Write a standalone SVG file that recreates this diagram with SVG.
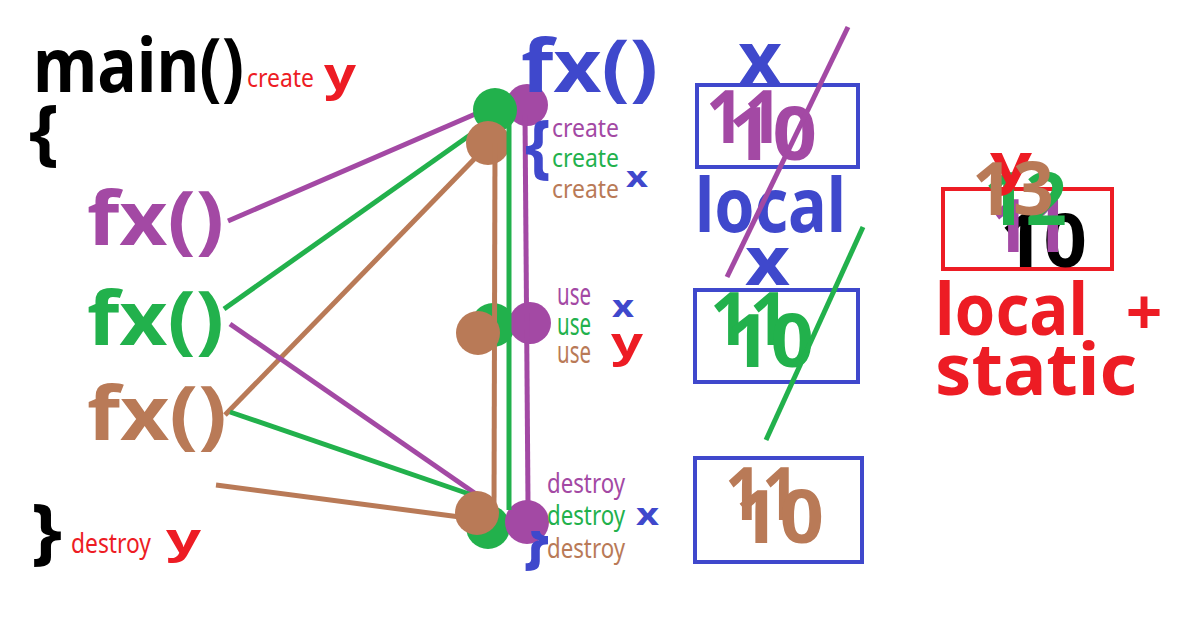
<svg xmlns="http://www.w3.org/2000/svg" width="1180" height="622" viewBox="0 0 1180 622">
<style>
.t{font-family:"Noto Sans","DejaVu Sans",sans-serif;font-weight:bold}
.s{font-family:"Noto Sans","DejaVu Sans",sans-serif;font-weight:normal}
.k{fill:#000}.r{fill:#ed1c24}.p{fill:#a349a4}.g{fill:#22b14c}.b{fill:#b97a57}.u{fill:#3f48cc}
.ln{stroke-width:5;fill:none}
.box{fill:none;stroke-width:4}
.big{font-size:74px}
</style>
<defs>
<clipPath id="braceClip"><rect x="520" y="531" width="29" height="60"/></clipPath>
</defs>
<rect width="1180" height="622" fill="#fff"/>

<g id="connectors">
<line class="ln" stroke="#a349a4" x1="228" y1="221" x2="480" y2="112"/>
<line class="ln" stroke="#22b14c" x1="224" y1="309" x2="480" y2="128"/>
<line class="ln" stroke="#b97a57" x1="225" y1="415" x2="485" y2="148"/>
<line class="ln" stroke="#a349a4" x1="230" y1="324" x2="476" y2="494"/>
<line class="ln" stroke="#22b14c" x1="230" y1="412" x2="472" y2="495"/>
<line class="ln" stroke="#b97a57" x1="216" y1="485" x2="460" y2="517"/>
</g>

<g id="circles">
<circle cx="527" cy="105" r="21" fill="#a349a4"/>
<circle cx="495" cy="110" r="22" fill="#22b14c"/>
<circle cx="488" cy="143" r="22" fill="#b97a57"/>
<circle cx="493" cy="325" r="22" fill="#22b14c"/>
<circle cx="478" cy="333" r="22" fill="#b97a57"/>
<circle cx="530" cy="323" r="21" fill="#a349a4"/>
<circle cx="488" cy="527" r="22" fill="#22b14c"/>
<circle cx="527" cy="522" r="22" fill="#a349a4"/>
<circle cx="477" cy="513" r="22" fill="#b97a57"/>
</g>

<g id="timelines">
<line class="ln" stroke="#b97a57" stroke-width="4" x1="495" y1="143" x2="494" y2="513"/>
<line class="ln" stroke="#22b14c" stroke-width="4" x1="509" y1="110" x2="509" y2="510"/>
<line class="ln" stroke="#a349a4" stroke-width="4" x1="525" y1="115" x2="528" y2="503"/>
</g>

<g id="main">
<text class="t k" x="33" y="92" font-size="76" textLength="211" lengthAdjust="spacingAndGlyphs">main()</text>
<text class="s r" x="247" y="87" font-size="26" textLength="67" lengthAdjust="spacingAndGlyphs">create</text>
<text class="t r" x="324" y="90" font-size="44" textLength="32" lengthAdjust="spacingAndGlyphs">y</text>
<text class="t k" x="29" y="157" font-size="72" textLength="30" lengthAdjust="spacingAndGlyphs">{</text>
<text class="t k" x="31" y="556" font-size="72" textLength="31" lengthAdjust="spacingAndGlyphs">}</text>
<text class="s r" x="71" y="553" font-size="28" textLength="80" lengthAdjust="spacingAndGlyphs">destroy</text>
<text class="t r" x="166" y="553" font-size="42" textLength="35" lengthAdjust="spacingAndGlyphs">y</text>
</g>

<g id="call-purple"><text class="t p" x="87" y="245" font-size="76" textLength="137" lengthAdjust="spacingAndGlyphs">fx()</text></g>
<g id="call-green"><text class="t g" x="87" y="345" font-size="76" textLength="137" lengthAdjust="spacingAndGlyphs">fx()</text></g>
<g id="call-brown"><text class="t b" x="87" y="440" font-size="76" textLength="140" lengthAdjust="spacingAndGlyphs">fx()</text></g>

<g id="fx">
<text class="t u" x="521" y="92" font-size="74" textLength="137" lengthAdjust="spacingAndGlyphs">fx()</text>
<text class="t u" x="525" y="170" font-size="70" textLength="26" lengthAdjust="spacingAndGlyphs">{</text>
<text class="s p" x="552" y="137" font-size="26" textLength="67" lengthAdjust="spacingAndGlyphs">create</text>
<text class="s g" x="552" y="167" font-size="26" textLength="67" lengthAdjust="spacingAndGlyphs">create</text>
<text class="s b" x="552" y="198" font-size="26" textLength="67" lengthAdjust="spacingAndGlyphs">create</text>
<text class="t u" x="626" y="187" font-size="28" textLength="22" lengthAdjust="spacingAndGlyphs">x</text>
<text class="s p" x="557" y="305" font-size="30" textLength="34" lengthAdjust="spacingAndGlyphs">use</text>
<text class="s g" x="557" y="335" font-size="30" textLength="34" lengthAdjust="spacingAndGlyphs">use</text>
<text class="s b" x="557" y="363" font-size="30" textLength="34" lengthAdjust="spacingAndGlyphs">use</text>
<text class="t u" x="612" y="317" font-size="30" textLength="22" lengthAdjust="spacingAndGlyphs">x</text>
<text class="t r" x="611" y="357" font-size="42" textLength="32" lengthAdjust="spacingAndGlyphs">y</text>
<text class="s p" x="547" y="493" font-size="28" textLength="78" lengthAdjust="spacingAndGlyphs">destroy</text>
<text class="s g" x="547" y="525" font-size="28" textLength="78" lengthAdjust="spacingAndGlyphs">destroy</text>
<text class="s b" x="547" y="558" font-size="28" textLength="78" lengthAdjust="spacingAndGlyphs">destroy</text>
<text class="t u" x="636" y="525" font-size="30" textLength="23" lengthAdjust="spacingAndGlyphs">x</text>
<text class="t u" x="523" y="560" font-size="70" textLength="26" lengthAdjust="spacingAndGlyphs" clip-path="url(#braceClip)">}</text>
</g>

<g id="local-x">
<text class="t u" x="738" y="85" font-size="75" textLength="44" lengthAdjust="spacingAndGlyphs">x</text>
<rect class="box" stroke="#3f48cc" x="697" y="85" width="161" height="82"/>
<text class="t p big" x="706" y="143" textLength="76" lengthAdjust="spacingAndGlyphs">11</text>
<text class="t p big" x="728" y="160" textLength="89" lengthAdjust="spacingAndGlyphs">10</text>
<text class="t u" x="695" y="232" font-size="76" textLength="151" lengthAdjust="spacingAndGlyphs">local</text>
<line class="ln" stroke="#a349a4" stroke-width="4" x1="848" y1="27" x2="727" y2="277"/>
</g>

<g id="local-x2">
<text class="t u" x="745" y="285" font-size="68" textLength="45" lengthAdjust="spacingAndGlyphs">x</text>
<rect class="box" stroke="#3f48cc" x="695" y="290" width="163" height="92"/>
<text class="t g big" x="710" y="345" textLength="79" lengthAdjust="spacingAndGlyphs">11</text>
<text class="t g big" x="727" y="367" textLength="87" lengthAdjust="spacingAndGlyphs">10</text>
<line class="ln" stroke="#22b14c" stroke-width="4" x1="863" y1="227" x2="766" y2="440"/>
</g>

<g id="local-x3">
<rect class="box" stroke="#3f48cc" x="695" y="458" width="167" height="104"/>
<text class="t b big" x="725" y="520" textLength="74" lengthAdjust="spacingAndGlyphs">11</text>
<text class="t b big" x="735" y="543" textLength="89" lengthAdjust="spacingAndGlyphs">10</text>
</g>

<g id="static-y">
<rect class="box" stroke="#ed1c24" x="943" y="189" width="169" height="80"/>
<text class="t k big" x="1000" y="267" textLength="87" lengthAdjust="spacingAndGlyphs">10</text>
<text class="t p big" x="990" y="252" textLength="79" lengthAdjust="spacingAndGlyphs">11</text>
<text class="t g big" x="984" y="225" textLength="83" lengthAdjust="spacingAndGlyphs">12</text>
<text class="t r" x="990" y="183" font-size="56" textLength="42" lengthAdjust="spacingAndGlyphs">y</text>
<text class="t b big" x="972" y="215" textLength="82" lengthAdjust="spacingAndGlyphs">13</text>
<text class="t r" x="935" y="335" font-size="72" textLength="153" lengthAdjust="spacingAndGlyphs">local</text>
<text class="t r" x="1144" y="335" font-size="64" text-anchor="middle">+</text>
<text class="t r" x="935" y="395" font-size="72" textLength="202" lengthAdjust="spacingAndGlyphs">static</text>
</g>
</svg>
